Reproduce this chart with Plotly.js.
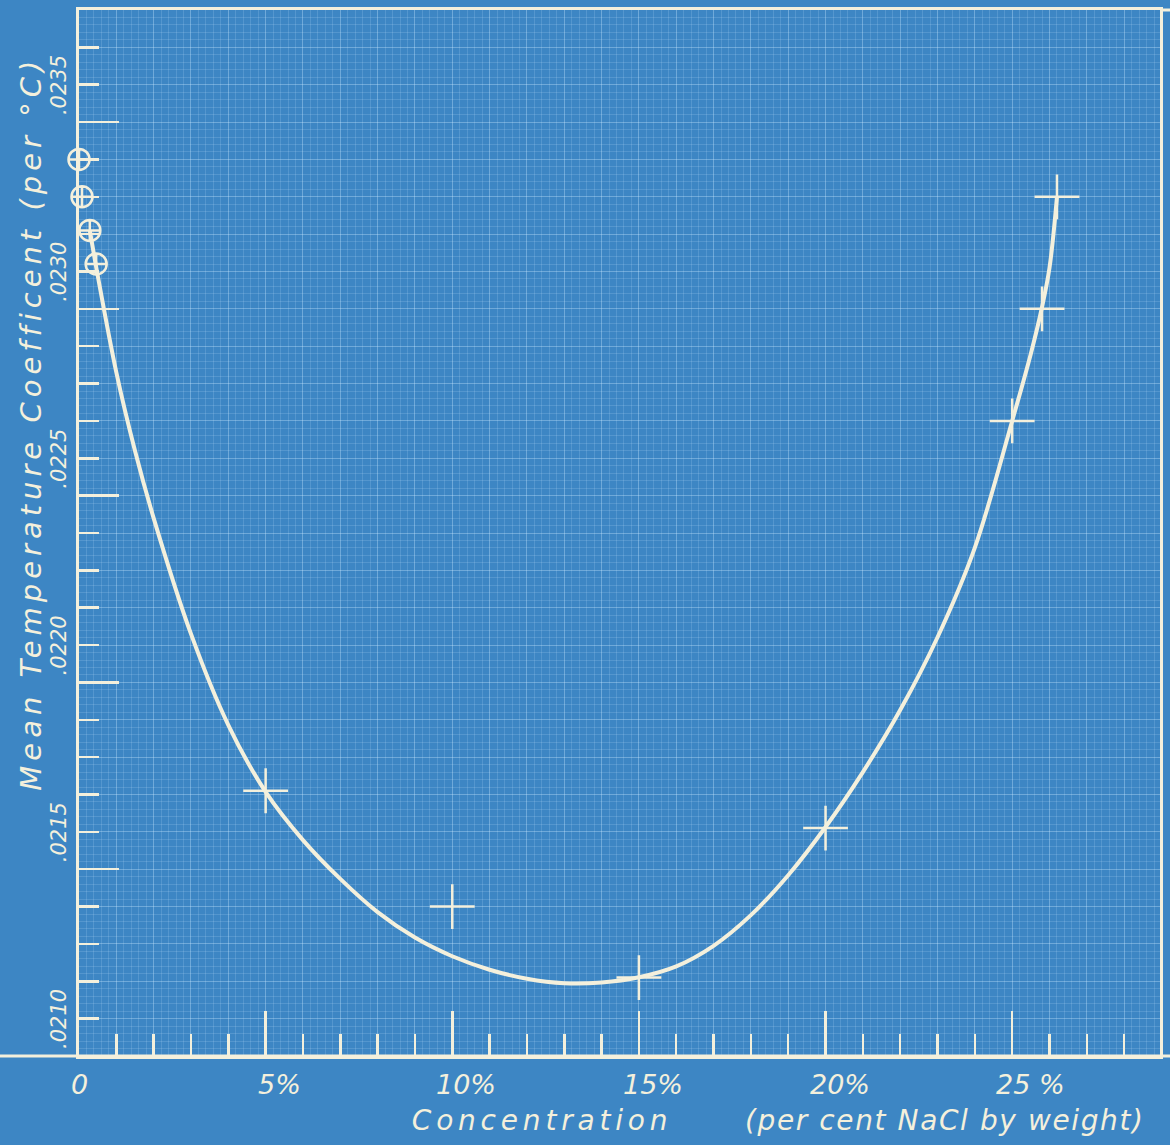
<!DOCTYPE html>
<html>
<head>
<meta charset="utf-8">
<script src="https://cdn.plot.ly/plotly-3.0.1.min.js"></script>
<style>
  html, body { margin: 0; padding: 0; background: #3d86c4; }
  #chart { width: 1170px; height: 1145px; }
</style>
</head>
<body>
<div id="chart"></div>
<script>
// ---- data ----
const curveConc = [0.29, 0.5, 1, 1.5, 2, 3, 4, 5, 6, 7, 8, 9, 10, 11, 12, 13, 14, 15, 16, 17, 18, 19, 20, 21, 22, 23, 24, 25, 25.5, 25.8, 26.0, 26.2];
const curveCoef = [0.02321, 0.02309, 0.02283, 0.02262, 0.02244, 0.02213, 0.021886, 0.021707, 0.021578, 0.021474, 0.021385, 0.021317, 0.021267, 0.021231, 0.021207, 0.021195, 0.021197, 0.021211, 0.021240, 0.021295, 0.021377, 0.021484, 0.021613, 0.021760, 0.021926, 0.022121, 0.022361, 0.022700, 0.022880, 0.023005, 0.023110, 0.023300];

const crossConc = [5, 10, 15, 20, 25, 25.8, 26.2];
const crossCoef = [0.02171, 0.02140, 0.02121, 0.02161, 0.02270, 0.02300, 0.02330];

const circleConc = [0, 0.08, 0.29, 0.46];
const circleCoef = [0.02340, 0.02330, 0.02321, 0.02312];

const xTickVals = [0, 5, 10, 15, 20, 25];
const xTickLabels = ['0', '5%', '10%', '15%', '20%', '25 %'];
const yTickVals = [0.0210, 0.0215, 0.0220, 0.0225, 0.0230, 0.0235];
const yTickLabels = ['.0210', '.0215', '.0220', '.0225', '.0230', '.0235'];

const xTitleMain = 'Concentration';
const xTitleNote = '(per cent NaCl by weight)';
const yTitleText = 'Mean Temperature Coefficent (per °C)';

// ---- style ----
const INK = '#f4f0dc';
const BLUE = '#3d86c4';
const FONT = 'DejaVu Sans';
const xRange = [0, 28.96];
const yRange = [0.0210, 0.0238];

const traces = [
  {
    x: curveConc, y: curveCoef, type: 'scatter', mode: 'lines',
    line: { color: INK, width: 4, shape: 'spline', smoothing: 1 },
    hoverinfo: 'skip', showlegend: false
  },
  {
    x: crossConc, y: crossCoef, type: 'scatter', mode: 'markers', cliponaxis: false,
    marker: { symbol: 'cross-thin', size: 32, color: INK, line: { color: INK, width: 2.5 } },
    hoverinfo: 'skip', showlegend: false
  },
  {
    x: circleConc, y: circleCoef, type: 'scatter', mode: 'markers', cliponaxis: false,
    marker: { symbol: 'circle-cross-open', size: 21, color: INK, line: { color: INK, width: 2.5 } },
    hoverinfo: 'skip', showlegend: false
  },
  { x: [], y: [], xaxis: 'x2', yaxis: 'y2', type: 'scatter', mode: 'markers', hoverinfo: 'skip', showlegend: false }
];

const annotations = [];
yTickVals.forEach((v, i) => {
  annotations.push({
    xref: 'paper', x: 0, xanchor: 'center', xshift: -20,
    yref: 'y', y: v, yanchor: 'middle', yshift: 37,
    text: yTickLabels[i], textangle: -90, showarrow: false,
    font: { family: FONT, size: 21, color: INK, style: 'italic' }
  });
});
xTickVals.forEach((v, i) => {
  const lab = xTickLabels[i];
  annotations.push({
    xref: 'x', x: v, xanchor: 'center', xshift: lab.indexOf(' ') >= 0 ? 18 : (lab.endsWith('%') ? 14 : 0),
    yref: 'paper', y: 0, yanchor: 'middle', yshift: -28,
    text: lab, showarrow: false,
    font: { family: FONT, size: 27, color: INK, style: 'italic' }
  });
});
const titleStart = annotations.length;
annotations.push({
  xref: 'paper', x: (542 - 79) / 1081, xanchor: 'center',
  yref: 'paper', y: 0, yanchor: 'middle', yshift: -64,
  text: xTitleMain, showarrow: false,
  font: { family: FONT, size: 28, color: INK, style: 'italic' }
});
annotations.push({
  xref: 'paper', x: (945 - 79) / 1081, xanchor: 'center',
  yref: 'paper', y: 0, yanchor: 'middle', yshift: -64,
  text: xTitleNote, showarrow: false,
  font: { family: FONT, size: 28, color: INK, style: 'italic' }
});
annotations.push({
  xref: 'paper', x: 0, xanchor: 'center', xshift: -48,
  yref: 'paper', y: (1056 - 424) / 1046, yanchor: 'middle',
  text: yTitleText, textangle: -90, showarrow: false,
  font: { family: FONT, size: 29, color: INK, style: 'italic' }
});
const letterSpacing = {};
letterSpacing[titleStart] = '4.8px';
letterSpacing[titleStart + 1] = '1.6px';
letterSpacing[titleStart + 2] = '5px';

const gridAxisCommon = {
  showline: false, zeroline: false, ticks: '', showticklabels: false,
  showgrid: true, gridwidth: 1, gridcolor: 'rgba(200,232,255,0.36)', fixedrange: true
};

const layout = {
  width: 1170, height: 1145,
  margin: { l: 79, r: 10, t: 10, b: 89, pad: 0 },
  paper_bgcolor: BLUE, plot_bgcolor: BLUE,
  showlegend: false, hovermode: false,
  xaxis: Object.assign({}, gridAxisCommon, {
    range: xRange, tickmode: 'linear', tick0: 0, dtick: 1,
    minor: { dtick: 0.2, tick0: 0, showgrid: true, gridcolor: 'rgba(200,232,255,0.17)', gridwidth: 1 }
  }),
  yaxis: Object.assign({}, gridAxisCommon, {
    range: yRange, tickmode: 'linear', tick0: 0.0210, dtick: 0.0001,
    minor: { dtick: 0.00002, tick0: 0.0210, showgrid: true, gridcolor: 'rgba(200,232,255,0.17)', gridwidth: 1 }
  }),
  xaxis2: {
    overlaying: 'x', anchor: 'y2', side: 'bottom', range: xRange, fixedrange: true,
    showgrid: false, zeroline: false, showticklabels: false,
    showline: true, mirror: true, linewidth: 3, linecolor: INK,
    ticks: 'inside', tickmode: 'linear', tick0: 0, dtick: 5, ticklen: 45, tickwidth: 2.5, tickcolor: INK,
    minor: { ticks: 'inside', dtick: 1, tick0: 0, ticklen: 22, tickwidth: 2.5, tickcolor: INK, showgrid: false }
  },
  yaxis2: {
    overlaying: 'y', anchor: 'x2', side: 'left', range: yRange, fixedrange: true,
    showgrid: false, zeroline: false, showticklabels: false,
    showline: true, mirror: true, linewidth: 3, linecolor: INK,
    ticks: 'inside', tickmode: 'linear', tick0: 0.0210, dtick: 0.0005, ticklen: 40, tickwidth: 2.5, tickcolor: INK,
    minor: { ticks: 'inside', dtick: 0.0001, tick0: 0.0210, ticklen: 20, tickwidth: 2.5, tickcolor: INK, showgrid: false }
  },
  shapes: [
    { type: 'line', xref: 'paper', yref: 'paper', x0: -0.075, x1: 1.01, y0: 0, y1: 0, line: { color: INK, width: 3 }, layer: 'above' },
    { type: 'line', xref: 'paper', yref: 'paper', x0: 1, x1: 1.01, y0: 1, y1: 1, line: { color: INK, width: 3 }, layer: 'above' }
  ],
  annotations: annotations
};

Plotly.newPlot('chart', traces, layout, { displayModeBar: false, staticPlot: true }).then(function () {
  document.querySelectorAll('#chart g.annotation').forEach(function (g) {
    const idx = g.getAttribute('data-index');
    if (letterSpacing[idx]) {
      const t = g.querySelector('text.annotation-text');
      if (t) t.style.letterSpacing = letterSpacing[idx];
    }
  });
});
</script>
</body>
</html>
